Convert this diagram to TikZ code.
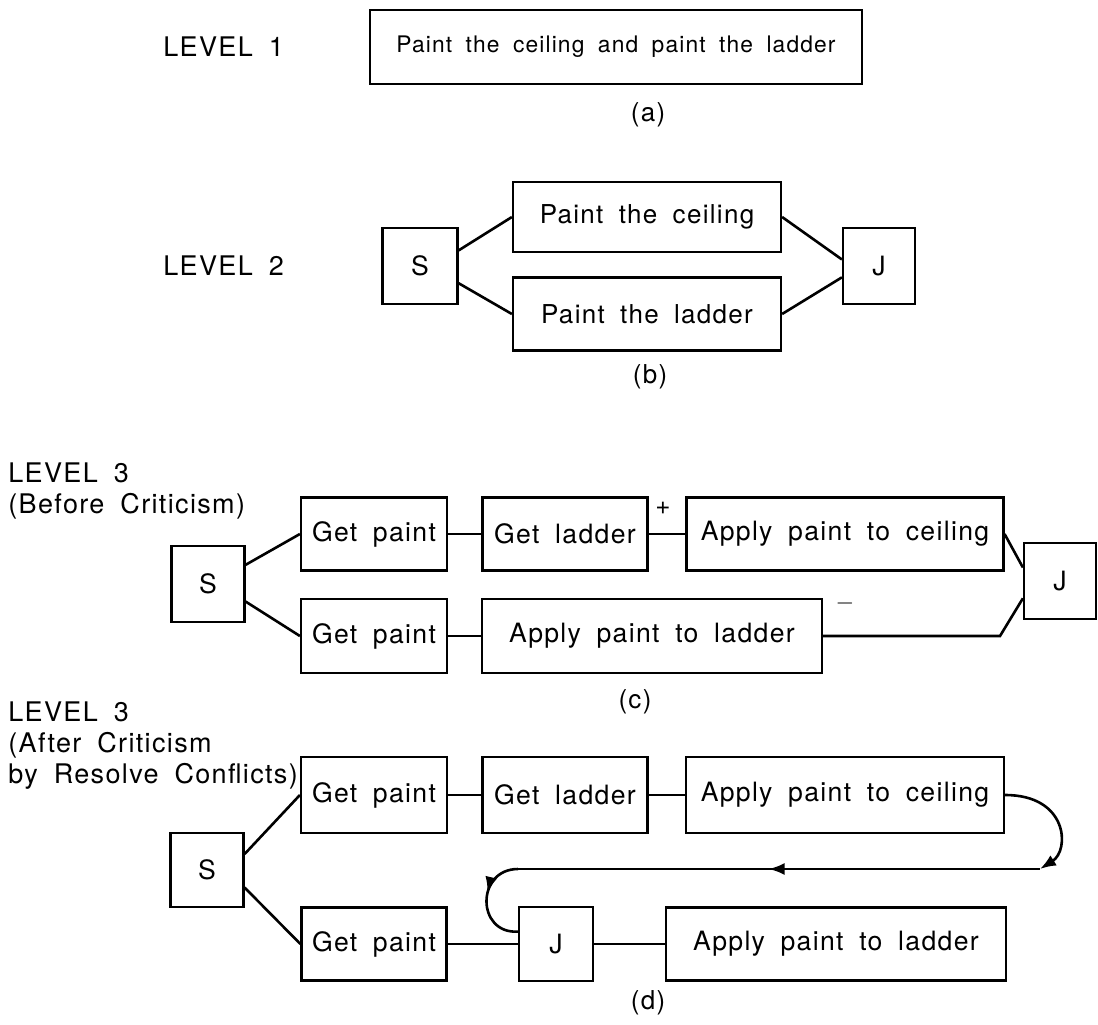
\documentclass[tikz,border=0pt]{standalone}
\usepackage{fontspec}
\setmainfont{TeX Gyre Heros}[WordSpace=1.8, LetterSpace=5]
\usetikzlibrary{arrows.meta,decorations.markings}

\tikzset{
	blk/.style 2 args={draw, line width=1.1pt, inner sep=0pt,
		minimum width=#1*0.5pt, minimum height=#2*0.5pt,
		font=\fontsize{13.3}{15}\selectfont},
	lvl/.style={anchor=west, align=left, inner sep=0pt,
		font=\fontsize{13.5}{15.5}\selectfont},
	sub/.style={inner sep=0pt, font=\fontsize{13}{15}\selectfont},
	wire/.style={line width=1.3pt},
	midarrow/.style={postaction={decorate}, decoration={markings,
		mark=at position #1 with {\arrow{Latex[length=8pt,width=6pt]}}}},
}

\begin{document}
\begin{tikzpicture}[x=0.5pt, y=-0.5pt]
	\useasboundingbox (0,0) rectangle (1098,1024);

	% level 1
	\node (L1) at (163, 47)	[lvl]	{LEVEL 1};
	\node (whole) at (616, 47)	[blk={492}{74}, font=\fontsize{11.4}{14}\selectfont]	{Paint the ceiling and paint the ladder};
	\node (capa) at (648, 115)	[sub]	{(a)};

	% level 2
	\node (L2) at (163, 266)	[lvl]	{LEVEL 2};
	\node (S2) at (420, 266)	[blk={75}{76}]	{S};
	\node (pc) at (647, 217)	[blk={268}{70}, font=\fontsize{13}{15}\selectfont]	{Paint the ceiling};
	\node (pl) at (647, 314)	[blk={268}{73}, font=\fontsize{13}{15}\selectfont]	{Paint the ladder};
	\node (J2) at (879, 266)	[blk={72}{76}]	{J};
	\node (capb) at (650, 377)	[sub]	{(b)};
	\draw[wire] (S2.22) -- (pc.west);
	\draw[wire] (S2.-24) -- (pl.west);
	\draw[wire] (pc.east) -- (J2.170);
	\draw[wire] (pl.east) -- (J2.197);

	% level 3, before criticism
	\node (L3a) at (8, 491)	[lvl]	{LEVEL 3\\(Before Criticism)};
	\node (S3) at (208, 584)	[blk={73}{76}]	{S};
	\node (gp1) at (374, 534)	[blk={146}{73}]	{Get paint};
	\node (gl1) at (565, 534)	[blk={165}{73}]	{Get ladder};
	\node (ac1) at (845, 534)	[blk={317}{73}]	{Apply paint to ceiling};
	\node (gp2) at (374, 636)	[blk={146}{74}]	{Get paint};
	\node (al2) at (652, 636)	[blk={340}{74}]	{Apply paint to ladder};
	\node (J3) at (1060, 581)	[blk={72}{76}]	{J};
	\node (plus) at (663, 508)	[sub]	{+};
	\node (minus) at (845, 603)	[sub]	{$-$};
	\node (capc) at (635, 702)	[sub]	{(c)};
	\coordinate (c3bend) at (1000, 636);
	\draw[wire] (S3.27) -- (gp1.west);
	\draw[wire] (S3.-25) -- (gp2.west);
	\draw[wire] (gp1) -- (gl1);
	\draw[wire] (gl1) -- (ac1);
	\draw[wire] (gp2) -- (al2);
	\draw[wire] (ac1.east) -- (J3.160);
	\draw[wire] (al2.east) -- (c3bend) -- (J3.205);

	% level 3, after criticism
	\node (L3b) at (8, 746)	[lvl]	{LEVEL 3\\(After Criticism\\by Resolve Conflicts)};
	\node (S4) at (207, 870)	[blk={73}{74}]	{S};
	\node (gp3) at (374, 795)	[blk={146}{76}]	{Get paint};
	\node (gl3) at (565, 795)	[blk={165}{76}]	{Get ladder};
	\node (ac3) at (845, 795)	[blk={318}{76}]	{Apply paint to ceiling};
	\node (gp4) at (374, 944)	[blk={145}{73}]	{Get paint};
	\node (J4) at (556, 944)	[blk={74}{74}]	{J};
	\node (al4) at (836, 944)	[blk={340}{73}]	{Apply paint to ladder};
	\node (capd) at (648, 1003)	[sub]	{(d)};
	\coordinate (loopR) at (1040, 869);
	\coordinate (loopL) at (518, 869);
	\draw[wire] (S4.23) -- (gp3.west);
	\draw[wire] (S4.-25) -- (gp4.west);
	\draw[wire] (gp3) -- (gl3);
	\draw[wire] (gl3) -- (ac3);
	\draw[wire] (gp4) -- (J4);
	\draw[wire] (J4) -- (al4);
	\draw[wire, -{Latex[length=8pt,width=6pt]}] (ac3.east) .. controls (1068, 795) and (1070, 850) .. (loopR);
	\draw[wire, midarrow=0.52] (loopR) -- (loopL);
	\draw[wire, midarrow=0.42] (loopL) .. controls (476, 869) and (476, 934) .. (J4.162);
\end{tikzpicture}
\end{document}
